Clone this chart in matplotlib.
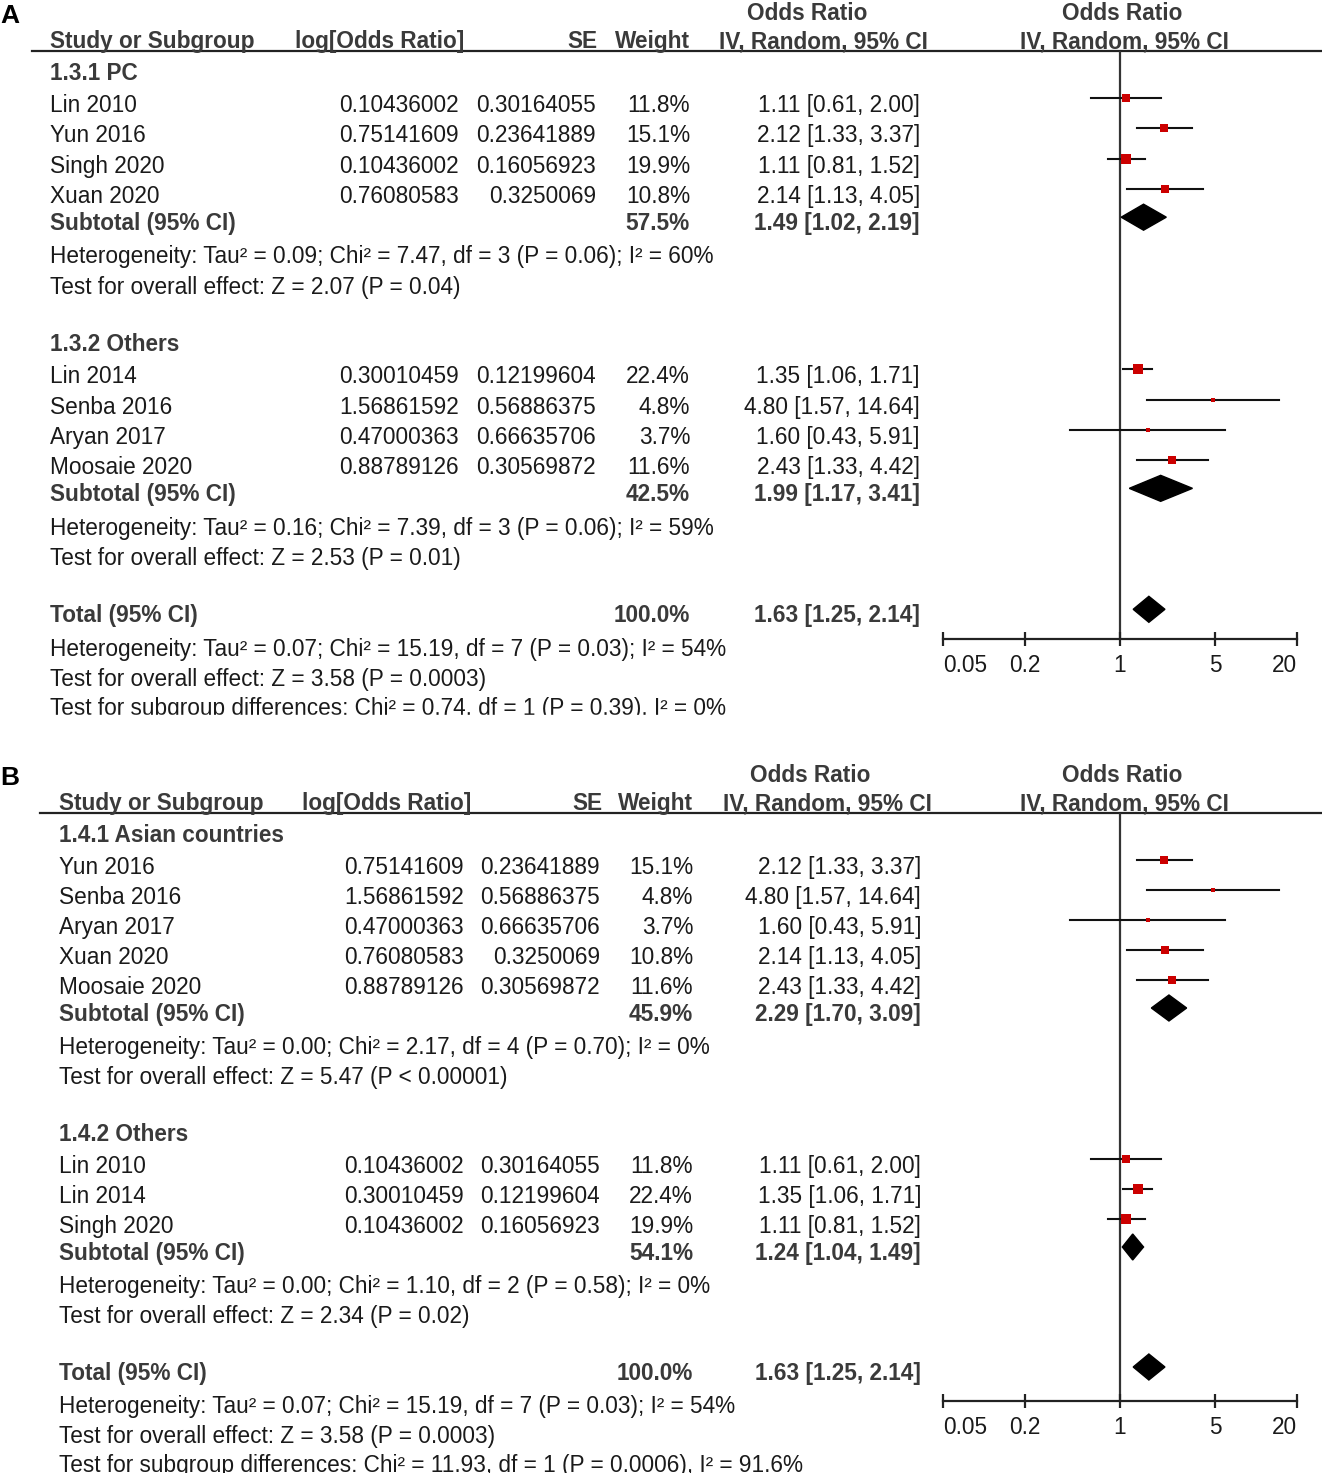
import numpy as np
import matplotlib.pyplot as plt
from matplotlib.patches import Polygon, Rectangle

plt.rcParams['font.family'] = ['Liberation Sans', 'DejaVu Sans']

W, H = 1322, 1473

# ---- panel A data ----
a_titles = ["1.3.1 PC", "1.3.2 Others"]
a_names = [["Lin 2010", "Yun 2016", "Singh 2020", "Xuan 2020"],
           ["Lin 2014", "Senba 2016", "Aryan 2017", "Moosaie 2020"]]
a_logor = [["0.10436002", "0.75141609", "0.10436002", "0.76080583"],
           ["0.30010459", "1.56861592", "0.47000363", "0.88789126"]]
a_se = [["0.30164055", "0.23641889", "0.16056923", "0.3250069"],
        ["0.12199604", "0.56886375", "0.66635706", "0.30569872"]]
a_weight = [[11.8, 15.1, 19.9, 10.8], [22.4, 4.8, 3.7, 11.6]]
a_or = [[1.11, 2.12, 1.11, 2.14], [1.35, 4.80, 1.60, 2.43]]
a_lo = [[0.61, 1.33, 0.81, 1.13], [1.06, 1.57, 0.43, 1.33]]
a_hi = [[2.00, 3.37, 1.52, 4.05], [1.71, 14.64, 5.91, 4.42]]
a_sub_w = [57.5, 42.5]
a_sub_or = [1.49, 1.99]
a_sub_lo = [1.02, 1.17]
a_sub_hi = [2.19, 3.41]
a_het = ["Heterogeneity: Tau² = 0.09; Chi² = 7.47, df = 3 (P = 0.06); I² = 60%",
         "Heterogeneity: Tau² = 0.16; Chi² = 7.39, df = 3 (P = 0.06); I² = 59%"]
a_test = ["Test for overall effect: Z = 2.07 (P = 0.04)",
          "Test for overall effect: Z = 2.53 (P = 0.01)"]
a_subdiff = "Test for subgroup differences: Chi² = 0.74, df = 1 (P = 0.39), I² = 0%"

# ---- panel B data ----
b_titles = ["1.4.1 Asian countries", "1.4.2 Others"]
b_names = [["Yun 2016", "Senba 2016", "Aryan 2017", "Xuan 2020", "Moosaie 2020"],
           ["Lin 2010", "Lin 2014", "Singh 2020"]]
b_logor = [["0.75141609", "1.56861592", "0.47000363", "0.76080583", "0.88789126"],
           ["0.10436002", "0.30010459", "0.10436002"]]
b_se = [["0.23641889", "0.56886375", "0.66635706", "0.3250069", "0.30569872"],
        ["0.30164055", "0.12199604", "0.16056923"]]
b_weight = [[15.1, 4.8, 3.7, 10.8, 11.6], [11.8, 22.4, 19.9]]
b_or = [[2.12, 4.80, 1.60, 2.14, 2.43], [1.11, 1.35, 1.11]]
b_lo = [[1.33, 1.57, 0.43, 1.13, 1.33], [0.61, 1.06, 0.81]]
b_hi = [[3.37, 14.64, 5.91, 4.05, 4.42], [2.00, 1.71, 1.52]]
b_sub_w = [45.9, 54.1]
b_sub_or = [2.29, 1.24]
b_sub_lo = [1.70, 1.04]
b_sub_hi = [3.09, 1.49]
b_het = ["Heterogeneity: Tau² = 0.00; Chi² = 2.17, df = 4 (P = 0.70); I² = 0%",
         "Heterogeneity: Tau² = 0.00; Chi² = 1.10, df = 2 (P = 0.58); I² = 0%"]
b_test = ["Test for overall effect: Z = 5.47 (P < 0.00001)",
          "Test for overall effect: Z = 2.34 (P = 0.02)"]
b_subdiff = "Test for subgroup differences: Chi² = 11.93, df = 1 (P = 0.0006), I² = 91.6%"

# overall (same in both panels)
tot_w = 100.0
tot_or, tot_lo, tot_hi = 1.63, 1.25, 2.14
tot_het = "Heterogeneity: Tau² = 0.07; Chi² = 15.19, df = 7 (P = 0.03); I² = 54%"
tot_test = "Test for overall effect: Z = 3.58 (P = 0.0003)"

ticks = [0.05, 0.2, 1, 5, 20]
tick_labels = ["0.05", "0.2", "1", "5", "20"]

FS = 16.3
TXT = "#1a1a1a"
BLD = "#3a3a3a"
RED = "#cc0000"

fig = plt.figure(figsize=(W / 100, H / 100), dpi=100)
ax = fig.add_axes([0, 0, 1, 1])
ax.set_xlim(0, W)
ax.set_ylim(H, 0)
ax.axis("off")


def diamond(fax, o, lo, hi, y, h=13):
    fax.add_patch(Polygon([(lo, y), (o, y - h), (hi, y), (o, y + h)],
                          closed=True, color="black", clip_on=False, zorder=4))


def draw_panel(letter, top, sy, cols, heads, titles, names, logor, se, weight,
               ors, los, his, sub_w, sub_or, sub_lo, sub_hi, het, test, subdiff):
    # top = y of header rule, sy = small vertical stretch of the row spacing
    ax.text(0, top - 28, letter, fontsize=19, fontweight="bold", color="black")
    ax.text(cols["name"], top - 3, "Study or Subgroup", fontsize=FS, fontweight="bold", color=BLD)
    ax.text(heads["logor"], top - 3, "log[Odds Ratio]", fontsize=FS, fontweight="bold", color=BLD)
    ax.text(heads["se"], top - 3, "SE", fontsize=FS, fontweight="bold", color=BLD, ha="right")
    ax.text(heads["w"], top - 3, "Weight", fontsize=FS, fontweight="bold", color=BLD, ha="right")
    ax.text(heads["or1"], top - 31, "Odds Ratio", fontsize=FS, fontweight="bold", color=BLD, ha="center")
    ax.text(heads["iv1"], top - 3, "IV, Random, 95% CI", fontsize=FS, fontweight="bold", color=BLD, ha="center")
    ax.text(1122, top - 31, "Odds Ratio", fontsize=FS, fontweight="bold", color=BLD, ha="center")
    ax.text(1124, top - 3, "IV, Random, 95% CI", fontsize=FS, fontweight="bold", color=BLD, ha="center")
    ax.plot([heads["rule"], W], [top, top], color="#222222", lw=1.6)

    # forest axis spans from header rule to the scale line
    axis_y = top + 588
    fax = fig.add_axes([943 / W, 1 - axis_y / H, (1297 - 943) / W, (axis_y - top) / H])
    fax.set_xscale("log")
    fax.set_xlim(0.05, 20)
    fax.set_ylim(axis_y, top)
    fax.patch.set_alpha(0)
    for s in ["top", "left", "right"]:
        fax.spines[s].set_visible(False)
    fax.spines["bottom"].set_linewidth(1.6)
    fax.spines["bottom"].set_color("#222222")
    fax.set_yticks([])
    fax.set_xticks(ticks)
    fax.set_xticklabels(tick_labels)
    fax.minorticks_off()
    fax.tick_params(axis="x", direction="inout", length=10, width=1.6, color="#222222",
                    labelsize=FS, labelcolor=TXT, pad=6)
    lbls = fax.get_xticklabels()
    lbls[0].set_ha("left")
    lbls[-1].set_ha("right")
    fax.axvline(1, color="#333333", lw=1.6, zorder=1)

    y = top + 29  # baseline of first subgroup title
    for g in range(len(titles)):
        ax.text(cols["name"], y, titles[g], fontsize=FS, fontweight="bold", color=BLD)
        y += 32 * sy
        for i in range(len(names[g])):
            ax.text(cols["name"], y, names[g][i], fontsize=FS, color=TXT)
            ax.text(cols["logor"], y, logor[g][i], fontsize=FS, color=TXT, ha="right")
            ax.text(cols["se"], y, se[g][i], fontsize=FS, color=TXT, ha="right")
            ax.text(cols["w"], y, f"{weight[g][i]:.1f}%", fontsize=FS, color=TXT, ha="right")
            ax.text(cols["ci"], y, f"{ors[g][i]:.2f} [{los[g][i]:.2f}, {his[g][i]:.2f}]",
                    fontsize=FS, color=TXT, ha="right")
            ym = y - 14
            fax.plot([los[g][i], his[g][i]], [ym, ym], color="#111111", lw=1.5,
                     clip_on=False, zorder=2)
            side = 2.2 * np.sqrt(weight[g][i]) * 0.72
            fax.plot([ors[g][i]], [ym], marker="s", ms=side, color=RED, mec=RED,
                     mew=0, clip_on=False, zorder=3)
            y += 30 * sy
        y -= 3 * sy
        ax.text(cols["name"], y, "Subtotal (95% CI)", fontsize=FS, fontweight="bold", color=BLD)
        ax.text(cols["w"], y, f"{sub_w[g]:.1f}%", fontsize=FS, fontweight="bold", color=BLD, ha="right")
        ax.text(cols["ci"], y, f"{sub_or[g]:.2f} [{sub_lo[g]:.2f}, {sub_hi[g]:.2f}]",
                fontsize=FS, fontweight="bold", color=BLD, ha="right")
        diamond(fax, sub_or[g], sub_lo[g], sub_hi[g], y - 13)
        y += 33 * sy
        ax.text(cols["name"], y, het[g], fontsize=FS, color=TXT)
        y += 30 * sy
        ax.text(cols["name"], y, test[g], fontsize=FS, color=TXT)
        y += 57 * sy

    ax.text(cols["name"], y, "Total (95% CI)", fontsize=FS, fontweight="bold", color=BLD)
    ax.text(cols["w"], y, f"{tot_w:.1f}%", fontsize=FS, fontweight="bold", color=BLD, ha="right")
    ax.text(cols["ci"], y, f"{tot_or:.2f} [{tot_lo:.2f}, {tot_hi:.2f}]",
            fontsize=FS, fontweight="bold", color=BLD, ha="right")
    diamond(fax, tot_or, tot_lo, tot_hi, y - 13)
    y += 33 * sy
    ax.text(cols["name"], y, tot_het, fontsize=FS, color=TXT)
    y += 30 * sy
    ax.text(cols["name"], y, tot_test, fontsize=FS, color=TXT)
    y += 29 * sy
    ax.text(cols["name"], y, subdiff, fontsize=FS, color=TXT)
    return y


draw_panel("A", 51, 1.008,
           dict(name=50, logor=459, se=596, w=690, ci=920),
           dict(logor=295, se=597, w=690, or1=807, iv1=823, rule=32),
           a_titles, a_names, a_logor, a_se, a_weight, a_or, a_lo, a_hi,
           a_sub_w, a_sub_or, a_sub_lo, a_sub_hi, a_het, a_test, a_subdiff)

# the last line of panel A is cut off in the source figure
ax.add_patch(Rectangle((0, 715), 900, 40, color="white", zorder=10))

draw_panel("B", 813, 1.0,
           dict(name=59, logor=464, se=600, w=693, ci=921),
           dict(logor=302, se=602, w=693, or1=810, iv1=827, rule=40),
           b_titles, b_names, b_logor, b_se, b_weight, b_or, b_lo, b_hi,
           b_sub_w, b_sub_or, b_sub_lo, b_sub_hi, b_het, b_test, b_subdiff)

fig.savefig("out.png", dpi=100)
